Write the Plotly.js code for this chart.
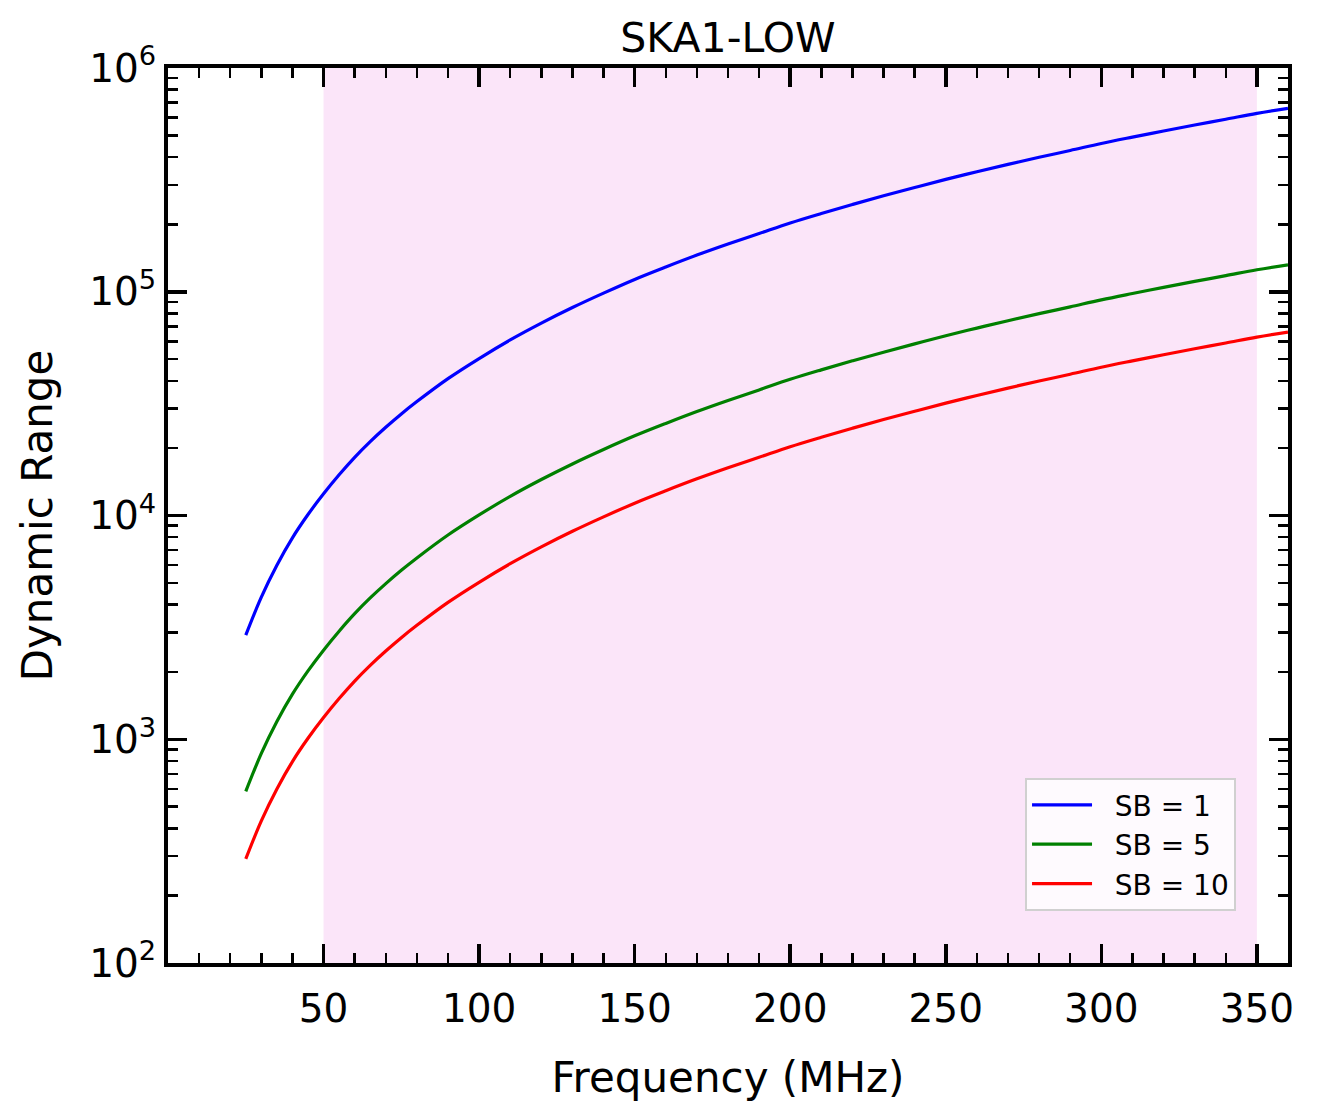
<!DOCTYPE html>
<html>
<head>
<meta charset="utf-8">
<script src="https://cdn.plot.ly/plotly-3.0.1.min.js"></script>
<style>
  body { margin: 0; background: #ffffff; }
  #chart { width: 1317px; height: 1119px; }
</style>
</head>
<body>
<div id="chart"></div>
<script>
// frequency in MHz, dynamic range values
// (finer steps at the low end where the curves bend most)
const freqs = [25, 30, 35, 40, 45, 50, 55, 60, 65, 70, 75, 80, 90, 100, 110, 120, 130, 140, 150, 160,
    170, 180, 190, 200, 210, 220, 230, 240, 250, 260, 270, 280, 290, 300, 310, 320, 330, 340, 350, 360];
const drSb1 = [2920, 4320, 6000, 7950, 10100, 12500, 15200, 18200, 21400, 24800, 28450, 32300,
    40900, 50300, 60900, 72400, 85000, 98600, 113500, 129000, 145800, 163400, 182100, 203000,
    223800, 245600, 268400, 292300, 318000, 344000, 371000, 399000, 428000, 460000, 491000,
    523000, 556000, 590000, 627000, 660000];
const drSb5 = [585, 864, 1200, 1590, 2020, 2500, 3040, 3640, 4280, 4960, 5690, 6460,
    8180, 10060, 12180, 14480, 17000, 19720, 22700, 25800, 29160, 32680, 36420, 40600,
    44760, 49120, 53680, 58460, 63600, 68800, 74200, 79800, 85600, 92000, 98200,
    104600, 111200, 118000, 125400, 132000];
const drSb10 = [292, 432, 600, 795, 1010, 1250, 1520, 1820, 2140, 2480, 2845, 3230,
    4090, 5030, 6090, 7240, 8500, 9860, 11350, 12900, 14580, 16340, 18210, 20300,
    22380, 24560, 26840, 29230, 31800, 34400, 37100, 39900, 42800, 46000, 49100,
    52300, 55600, 59000, 62700, 66000];

const seriesNames = ["SB = 1", "SB = 5", "SB = 10"];
const seriesColors = ["#0000ff", "#008000", "#ff0000"];

// band covered by SKA1-LOW
const bandLow = 50;
const bandHigh = 350;

const xTicks = [50, 100, 150, 200, 250, 300, 350];
const yTicks = [100, 1000, 10000, 100000, 1000000];
const yTickText = ["10<sup>2</sup>", "10<sup>3</sup>", "10<sup>4</sup>", "10<sup>5</sup>", "10<sup>6</sup>"];

const fontFamily = "DejaVu Sans, Liberation Sans, sans-serif";

let traces = [drSb1, drSb5, drSb10].map((vals, i) => {
    return {
        type: "scatter",
        mode: "lines",
        // nbsp pads the gap between legend line and text
        name: "\u00a0\u00a0" + seriesNames[i],
        x: freqs,
        y: vals,
        line: {color: seriesColors[i], width: 3.2, shape: "spline", smoothing: 1}
    };
});

const axisCommon = {
    showline: true,
    linecolor: "#000000",
    linewidth: 4,
    mirror: "allticks",
    ticks: "inside",
    ticklen: 19,
    tickwidth: 3.5,
    tickcolor: "#000000",
    showgrid: false,
    zeroline: false,
    tickfont: {family: fontFamily, size: 39, color: "#000000"}
};

const layout = {
    width: 1317,
    height: 1119,
    margin: {l: 168, r: 29, t: 68, b: 156},
    paper_bgcolor: "#ffffff",
    plot_bgcolor: "#ffffff",
    font: {family: fontFamily, color: "#000000"},
    title: {
        text: "SKA1-LOW",
        font: {family: fontFamily, size: 41, color: "#000000"},
        x: 0.5,
        xref: "paper",
        y: 1 - 38 / 1119,
        yref: "container",
        yanchor: "middle"
    },
    xaxis: Object.assign({}, axisCommon, {
        range: [0, 360],
        tickmode: "array",
        tickvals: xTicks,
        ticktext: xTicks.map(String),
        ticklabelstandoff: 8,
        minor: {ticks: "inside", ticklen: 10, tickwidth: 2.5, tickcolor: "#000000", dtick: 10, tick0: 0, showgrid: false},
        title: {text: "Frequency (MHz)", font: {family: fontFamily, size: 42, color: "#000000"}, standoff: 34}
    }),
    yaxis: Object.assign({}, axisCommon, {
        type: "log",
        range: [2, 6],
        tickmode: "array",
        tickvals: yTicks,
        ticktext: yTickText,
        minor: {ticks: "inside", ticklen: 10, tickwidth: 2.5, tickcolor: "#000000", dtick: "D1", showgrid: false},
        title: {text: "Dynamic Range", font: {family: fontFamily, size: 42, color: "#000000"}, standoff: 24}
    }),
    shapes: [{
        type: "rect",
        xref: "x",
        yref: "paper",
        x0: bandLow,
        x1: bandHigh,
        y0: 0,
        y1: 1,
        fillcolor: "#fbe5f9",
        line: {width: 0},
        layer: "below"
    }],
    legend: {
        x: 0.9536,
        y: 0.058,
        xanchor: "right",
        yanchor: "bottom",
        bgcolor: "rgba(255,255,255,0.8)",
        bordercolor: "#d0d0d0",
        borderwidth: 2,
        font: {family: fontFamily, size: 28, color: "#000000"},
        itemwidth: 60
    },
    showlegend: true
};

Plotly.newPlot("chart", traces, layout, {displayModeBar: false, staticPlot: true});
</script>
</body>
</html>
